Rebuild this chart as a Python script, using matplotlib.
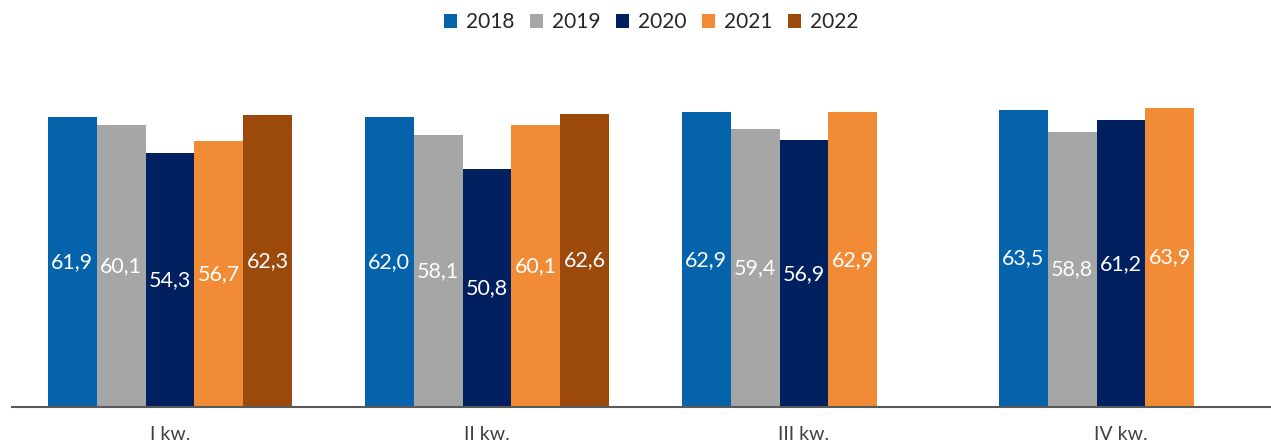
import matplotlib
matplotlib.use("Agg")
import matplotlib.pyplot as plt
import numpy as np
from matplotlib.patches import Patch

plt.rcParams['font.family'] = ['Lato', 'DejaVu Sans']

categories = ["I kw.", "II kw.", "III kw.", "IV kw."]
years = ["2018", "2019", "2020", "2021", "2022"]
values = {
    "2018": [61.9, 62.0, 62.9, 63.5],
    "2019": [60.1, 58.1, 59.4, 58.8],
    "2020": [54.3, 50.8, 56.9, 61.2],
    "2021": [56.7, 60.1, 62.9, 63.9],
    "2022": [62.3, 62.6, np.nan, np.nan],
}
colors = ["#0563AC", "#A6A6A6", "#002060", "#F28B35", "#9C4A0B"]

W, H = 1271, 445
fig = plt.figure(figsize=(W / 100, H / 100), dpi=100)
left_px, right_px = 11.5, 1279.5
bottom_px, top_px = 407, 102.5
ax = fig.add_axes([left_px / W, (H - bottom_px) / H,
                   (right_px - left_px) / W, (bottom_px - top_px) / H])

x = np.arange(len(categories))
bw = 0.154
for i, (yr, c) in enumerate(zip(years, colors)):
    vals = np.array(values[yr], dtype=float)
    pos = x + (i - 2) * bw
    bars = ax.bar(pos, vals, width=bw, color=c, edgecolor='none')
    for b, v in zip(bars, vals):
        if np.isnan(v):
            continue
        ax.text(b.get_x() + b.get_width() / 2, v / 2,
                f"{v:.1f}".replace(".", ","), ha='center', va='center',
                color='white', fontsize=15.5)

ax.set_xlim(-0.5, 3.5)
ax.set_ylim(0, 65)
ax.set_yticks([])
ax.set_xticks(x)
ax.set_xticklabels(categories, fontsize=14, color='#404040')
ax.tick_params(axis='x', length=0, pad=14)
for s in ['top', 'right', 'left']:
    ax.spines[s].set_visible(False)
ax.spines['bottom'].set_color('#595959')
ax.spines['bottom'].set_linewidth(1.5)

handles = [Patch(facecolor=c, edgecolor='none') for c in colors]
fig.legend(handles, years, loc='center', bbox_to_anchor=(651 / W, 1 - 22 / H),
           ncol=5, frameon=False, fontsize=15, handlelength=0.65,
           handleheight=0.65, handletextpad=0.4, columnspacing=0.75,
           labelcolor='#262626')

fig.savefig("out.png", dpi=100)
